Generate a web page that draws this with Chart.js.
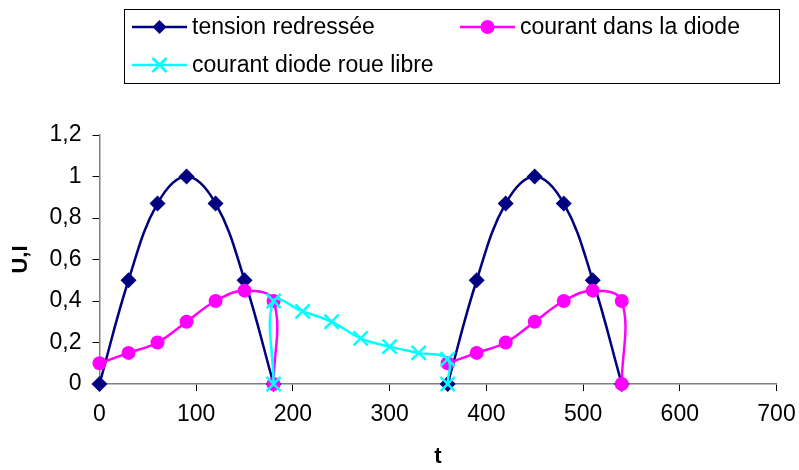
<!DOCTYPE html>
<html>
<head>
<meta charset="utf-8">
<script src="https://cdn.jsdelivr.net/npm/chart.js@4.4.1/dist/chart.umd.min.js"></script>
<style>
    html, body { margin: 0; padding: 0; background: #fff; }
    #wrap { width: 799px; height: 470px; }
</style>
</head>
<body>
<div id="wrap"><canvas id="chart" width="799" height="470"></canvas></div>
<script>
// Données (null = coupure de la courbe)
const tensionT = [0, 30, 60, 90, 120, 150, 180, 270, 360, 390, 420, 450, 480, 510, 540];
const tensionU = [0, 0.5, 0.87, 1, 0.87, 0.5, 0, null, 0, 0.5, 0.87, 1, 0.87, 0.5, 0];

const diodeT = [0, 30, 60, 90, 120, 150, 180, 180, 270, 360, 390, 420, 450, 480, 510, 540, 540];
const diodeI = [0.1, 0.15, 0.2, 0.3, 0.4, 0.45, 0.4, 0, null, 0.1, 0.15, 0.2, 0.3, 0.4, 0.45, 0.4, 0];

const roueT = [180, 180, 210, 240, 270, 300, 330, 360, 360];
const roueI = [0, 0.4, 0.35, 0.3, 0.22, 0.18, 0.15, 0.12, 0];

const xTicks = [0, 100, 200, 300, 400, 500, 600, 700];
const yTicks = [0, 0.2, 0.4, 0.6, 0.8, 1, 1.2];

const labels = ['tension redressée', 'courant dans la diode', 'courant diode roue libre'];
const colors = ['#000080', '#FF00FF', '#00FFFF'];

const FONT = "'Liberation Sans', Arial, sans-serif";

function toPoints(xs, ys) {
    return xs.map((x, i) => ({ x: x, y: ys[i] }));
}

// Petit marqueur pour la légende
function drawMarker(ctx, style, x, y, color) {
    ctx.save();
    ctx.fillStyle = color;
    ctx.strokeStyle = color;
    ctx.beginPath();
    if (style === 'diamond') {
        ctx.moveTo(x, y - 7);
        ctx.lineTo(x + 7, y);
        ctx.lineTo(x, y + 7);
        ctx.lineTo(x - 7, y);
        ctx.closePath();
        ctx.fill();
    } else if (style === 'circle') {
        ctx.arc(x, y, 7, 0, Math.PI * 2);
        ctx.fill();
    } else {
        ctx.lineWidth = 2.5;
        ctx.moveTo(x - 7, y - 7);
        ctx.lineTo(x + 7, y + 7);
        ctx.moveTo(x + 7, y - 7);
        ctx.lineTo(x - 7, y + 7);
        ctx.stroke();
    }
    ctx.restore();
}

// Légende encadrée façon Excel
const boxLegend = {
    id: 'boxLegend',
    afterDraw(chart) {
        const ctx = chart.ctx;
        ctx.save();
        ctx.strokeStyle = '#000';
        ctx.lineWidth = 1;
        ctx.strokeRect(124.5, 9.5, 655, 74);

        const items = [
            { x: 132, y: 27, style: 'diamond' },
            { x: 460, y: 27, style: 'circle' },
            { x: 132, y: 65, style: 'cross' }
        ];
        ctx.font = '23px ' + FONT;
        ctx.textBaseline = 'middle';
        items.forEach((it, i) => {
            ctx.strokeStyle = colors[i];
            ctx.lineWidth = 2.5;
            ctx.beginPath();
            ctx.moveTo(it.x, it.y);
            ctx.lineTo(it.x + 55, it.y);
            ctx.stroke();
            drawMarker(ctx, it.style, it.x + 27.5, it.y, colors[i]);
            ctx.fillStyle = '#000';
            ctx.fillText(labels[i], it.x + 60, it.y + 1);
        });
        ctx.restore();
    }
};

document.addEventListener('DOMContentLoaded', () => {
    const ctx = document.getElementById('chart').getContext('2d');

    Chart.defaults.font.family = FONT;
    Chart.defaults.font.size = 23;
    Chart.defaults.color = '#000';

    new Chart(ctx, {
        type: 'scatter',
        data: {
            datasets: [
                {
                    label: labels[0],
                    data: toPoints(tensionT, tensionU),
                    showLine: true,
                    borderColor: colors[0],
                    backgroundColor: colors[0],
                    borderWidth: 2.5,
                    pointStyle: 'rectRot',
                    pointRadius: 8,
                    pointBorderWidth: 0,
                    tension: 0.4,
                    spanGaps: false,
                    clip: false,
                    order: 2
                },
                {
                    label: labels[1],
                    data: toPoints(diodeT, diodeI),
                    showLine: true,
                    borderColor: colors[1],
                    backgroundColor: colors[1],
                    borderWidth: 2.5,
                    pointStyle: 'circle',
                    pointRadius: 7,
                    pointBorderWidth: 0,
                    tension: 0.4,
                    spanGaps: false,
                    clip: false,
                    order: 1
                },
                {
                    label: labels[2],
                    data: toPoints(roueT, roueI),
                    showLine: true,
                    borderColor: colors[2],
                    backgroundColor: colors[2],
                    borderWidth: 2.5,
                    pointStyle: 'crossRot',
                    pointRadius: 10,
                    pointBorderWidth: 2.5,
                    tension: 0.4,
                    spanGaps: false,
                    clip: false,
                    order: 0
                }
            ]
        },
        options: {
            responsive: false,
            animation: false,
            events: [],
            layout: {
                padding: { left: 0, right: 22.5, top: 135, bottom: 0 }
            },
            plugins: {
                legend: { display: false },
                tooltip: { enabled: false }
            },
            scales: {
                x: {
                    type: 'linear',
                    min: 0,
                    max: 700,
                    afterBuildTicks: (scale) => {
                        scale.ticks = xTicks.map(v => ({ value: v }));
                    },
                    afterFit: (scale) => {
                        scale.height = 86;
                        scale.paddingLeft = 0;
                        scale.paddingRight = 0;
                    },
                    ticks: { padding: 10, maxRotation: 0 },
                    grid: {
                        drawOnChartArea: false,
                        tickLength: 7,
                        tickColor: '#000',
                        tickWidth: 1
                    },
                    border: { color: '#808080', width: 1.5 },
                    title: {
                        display: true,
                        text: 't',
                        font: { weight: 'bold', size: 22 },
                        padding: { top: 0, bottom: 0 }
                    }
                },
                y: {
                    type: 'linear',
                    min: 0,
                    max: 1.2,
                    afterBuildTicks: (scale) => {
                        scale.ticks = yTicks.map(v => ({ value: v }));
                    },
                    afterFit: (scale) => {
                        scale.width = 99.5;
                        scale.paddingTop = 0;
                        scale.paddingBottom = 0;
                    },
                    ticks: {
                        padding: 11,
                        callback: (v) => String(Math.round(v * 10) / 10).replace('.', ',')
                    },
                    grid: {
                        drawOnChartArea: false,
                        tickLength: 7,
                        tickColor: '#000',
                        tickWidth: 1
                    },
                    border: { color: '#808080', width: 1.5 },
                    title: {
                        display: true,
                        text: 'U,I',
                        font: { weight: 'bold', size: 22 },
                        padding: { top: 8, bottom: 6 }
                    }
                }
            }
        },
        plugins: [boxLegend]
    });
});
</script>
</body>
</html>
